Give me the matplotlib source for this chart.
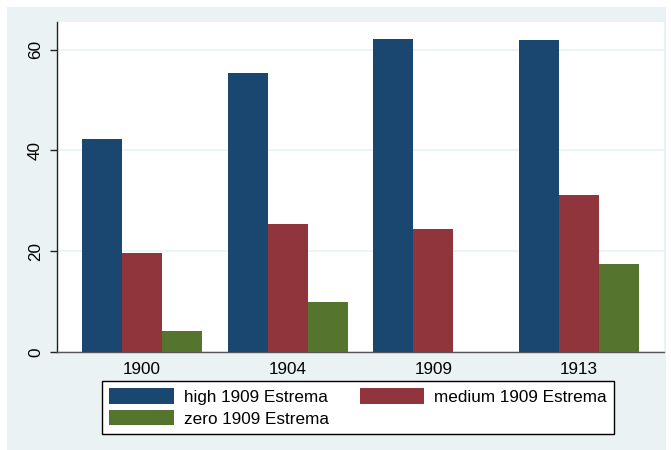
import numpy as np
import matplotlib.pyplot as plt
from matplotlib.patches import Rectangle

# values
years = ["1900", "1904", "1909", "1913"]
high = [42.3, 55.3, 62.2, 62.0]
medium = [19.6, 25.5, 24.5, 31.1]
zero = [4.2, 9.9, 0.0, 17.4]
labels = ["high 1909 Estrema", "medium 1909 Estrema", "zero 1909 Estrema"]
colors = ["#1a476f", "#90353b", "#55752f"]
bg = "#eaf2f3"

plt.rcParams['font.family'] = ['Liberation Sans', 'DejaVu Sans']
fs = 12.3

fig = plt.figure(figsize=(6.71, 4.5), dpi=100, facecolor="white")
# outer Stata-style background panel (pixel coords -> figure fraction)
fig.patches.append(Rectangle((7 / 671, 0), 659 / 671, 443 / 450,
                             transform=fig.transFigure, facecolor=bg,
                             edgecolor="none", zorder=-10))

ax = fig.add_axes([57 / 671, 1 - 352 / 450, 607 / 671, 330 / 450])
ax.set_facecolor("white")

x = np.arange(len(years))
w = 0.2745
handles = []
for i, (vals, c) in enumerate(zip([high, medium, zero], colors)):
    b = ax.bar(x + (i - 1) * w, vals, width=w, color=c, edgecolor="none",
               zorder=3)
    handles.append(b)

ax.set_xlim(-0.583, len(years) - 1 + 0.583)
ax.set_ylim(0, 65.5)
ax.set_yticks([0, 20, 40, 60])
ax.set_xticks(x)
ax.set_xticklabels(years)
ax.yaxis.grid(True, color=bg, linewidth=1.2, zorder=0)
ax.set_axisbelow(True)

for s in ["top", "right"]:
    ax.spines[s].set_visible(False)
ax.spines["left"].set_color("#222222")
ax.spines["bottom"].set_color("#555555")
ax.spines["left"].set_linewidth(1.0)
ax.spines["bottom"].set_linewidth(1.0)

ax.tick_params(axis="y", length=5, width=1, pad=5, labelsize=fs,
               labelrotation=90, color="#222222")
for t in ax.get_yticklabels():
    t.set_va("center")
ax.tick_params(axis="x", length=0, pad=7, labelsize=fs)

# matplotlib fills legend columns first; reorder so rows read high, medium / zero
order = [0, 2, 1]
leg = fig.legend([handles[k] for k in order], [labels[k] for k in order],
                 ncol=2, loc="center",
                 bbox_to_anchor=(358 / 671, 1 - 407.5 / 450),
                 fontsize=fs, frameon=True, fancybox=False, framealpha=1,
                 handlelength=3.8, handleheight=1.0, handletextpad=0.55,
                 columnspacing=1.8, labelspacing=0.3, borderpad=0.42)
leg.get_frame().set_edgecolor("black")
leg.get_frame().set_linewidth(1.0)
leg.get_frame().set_facecolor("white")

fig.savefig("out.png", dpi=100, facecolor=fig.get_facecolor())
